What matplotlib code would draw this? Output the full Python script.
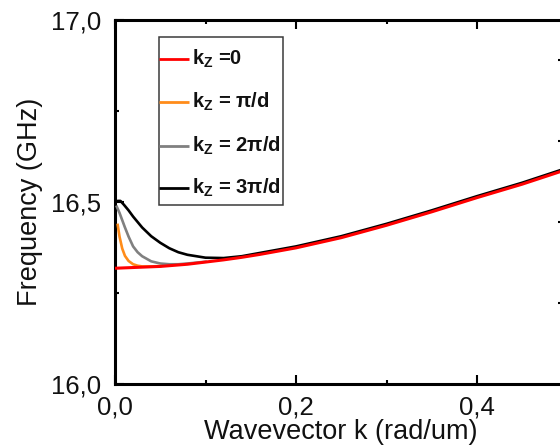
import numpy as np
import matplotlib
matplotlib.use("Agg")
import matplotlib.pyplot as plt
from matplotlib.patches import Rectangle
from matplotlib.ticker import MultipleLocator

plt.rcParams['font.family'] = ['Liberation Sans', 'DejaVu Sans']
plt.rcParams['mathtext.fontset'] = 'custom'
plt.rcParams['mathtext.rm'] = 'Liberation Sans'
plt.rcParams['mathtext.bf'] = 'Liberation Sans:bold'
plt.rcParams['mathtext.it'] = 'Liberation Sans:italic'

# ========================
# Dispersion data (k in rad/um, f in GHz)
# ========================
k_kz0 = [0.0, 0.02, 0.05, 0.08, 0.10, 0.12, 0.14, 0.16, 0.20, 0.25, 0.30, 0.35, 0.40, 0.45, 0.50]
f_kz0 = [16.318, 16.320, 16.323, 16.329, 16.335, 16.341, 16.348, 16.356, 16.374,
         16.402, 16.436, 16.473, 16.512, 16.549, 16.590]

k_kz1 = [0.003, 0.005, 0.008, 0.011, 0.015, 0.020, 0.025, 0.030, 0.040, 0.050]
f_kz1 = [16.437, 16.405, 16.372, 16.352, 16.338, 16.329, 16.325, 16.323, 16.323, 16.324]

k_kz2 = [0.002, 0.005, 0.008, 0.011, 0.015, 0.020, 0.025, 0.030, 0.040, 0.050,
         0.060, 0.070, 0.080, 0.100]
f_kz2 = [16.487, 16.470, 16.450, 16.430, 16.405, 16.378, 16.362, 16.351, 16.337, 16.331,
         16.329, 16.329, 16.331, 16.336]

k_kz3 = [0.0, 0.003, 0.006, 0.010, 0.015, 0.020, 0.025, 0.030, 0.040, 0.050, 0.060,
         0.070, 0.080, 0.100, 0.120, 0.140, 0.160, 0.200, 0.250, 0.300, 0.350, 0.400,
         0.450, 0.500]
f_kz3 = [16.498, 16.503, 16.503, 16.492, 16.477, 16.460, 16.445, 16.430, 16.406, 16.388,
         16.373, 16.362, 16.355, 16.347, 16.346, 16.351, 16.360, 16.378, 16.406, 16.440,
         16.477, 16.516, 16.553, 16.594]

series_labels = [r'$\mathbf{k_Z}$ =0', r'$\mathbf{k_Z}$ = π/d',
                 r'$\mathbf{k_Z}$ = 2π/d', r'$\mathbf{k_Z}$ = 3π/d']
series_colors = ['#ff0000', '#ff8c1a', '#808080', '#000000']

x_ticks = [0.0, 0.2, 0.4]
x_ticklabels = ['0,0', '0,2', '0,4']
y_ticks = [16.0, 16.5, 17.0]
y_ticklabels = ['16,0', '16,5', '17,0']

# ========================
# Figure
# ========================
fig = plt.figure(figsize=(5.6, 4.47), dpi=100)
# the frame runs a little past the right edge of the canvas
ax = fig.add_axes([115 / 560, 63 / 447, 452.5 / 560, 364 / 447])

ax.plot(k_kz3, f_kz3, color=series_colors[3], lw=1.9, zorder=2)
ax.plot(k_kz2, f_kz2, color=series_colors[2], lw=1.9, zorder=3)
ax.plot(k_kz1, f_kz1, color=series_colors[1], lw=1.9, zorder=4)
ax.plot(k_kz0, f_kz0, color=series_colors[0], lw=2.2, zorder=5)

ax.set_xlim(0, 0.5)
ax.set_ylim(16.0, 17.0)

ax.set_xticks(x_ticks)
ax.set_xticklabels(x_ticklabels)
ax.set_yticks(y_ticks)
ax.set_yticklabels(y_ticklabels)
ax.xaxis.set_minor_locator(MultipleLocator(0.1))
ax.yaxis.set_minor_locator(MultipleLocator(0.25))

ax.tick_params(which='both', direction='in', width=1.5, colors='black',
               labelsize=18.5, labelcolor='#111111', top=True, right=False)
ax.tick_params(which='major', length=6.5)
ax.tick_params(which='minor', length=3.2)
ax.tick_params(axis='x', pad=8)
ax.tick_params(axis='y', pad=10)

for sp in ax.spines.values():
    sp.set_linewidth(2.2)

ax.set_xlabel('Wavevector k (rad/um)', fontsize=19.5, color='#111111', labelpad=0)
ax.set_ylabel('Frequency (GHz)', fontsize=19.5, color='#111111', labelpad=6)

# right-hand frame ticks
ax2 = ax.twinx()
ax2.set_ylim(0, 4.5)
ax2.set_yticks([1, 2, 3, 4])
ax2.tick_params(axis='y', direction='in', length=7.5, width=1.5, labelright=False)
for sp in ax2.spines.values():
    sp.set_visible(False)

# ========================
# Legend box
# ========================
box = Rectangle((0.0972, 0.492), 0.274, 0.461, transform=ax.transAxes,
                facecolor='white', edgecolor='#3a3a3a', lw=1.1, zorder=6)
ax.add_patch(box)
entry_y = [0.893, 0.775, 0.654, 0.538]
for lab, col, yy in zip(series_labels, series_colors, entry_y):
    ax.plot([0.0972, 0.163], [yy, yy], transform=ax.transAxes, color=col,
            lw=2.0, solid_capstyle='butt', zorder=7)
    ax.text(0.170, yy - 0.016, lab, transform=ax.transAxes, fontsize=14.5,
            fontweight='bold', color='#111111', va='baseline', ha='left', zorder=7)

fig.savefig('out.png', dpi=100)
